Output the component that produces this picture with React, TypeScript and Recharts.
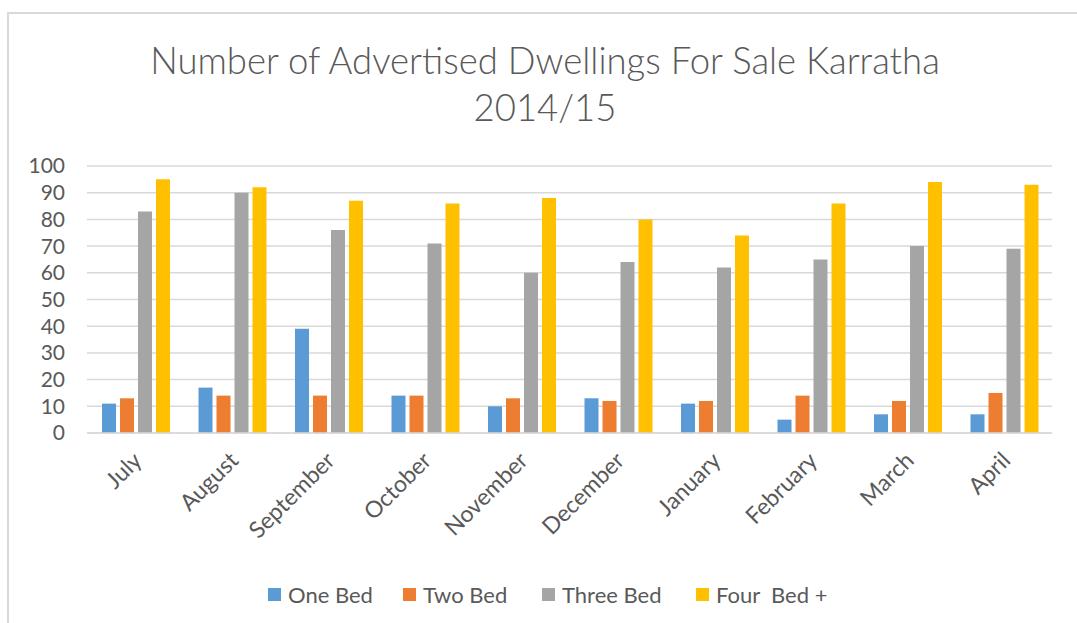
import React from 'react';
import { BarChart, Bar, XAxis, YAxis, CartesianGrid, Legend } from 'recharts';

const months = ['July', 'August', 'September', 'October', 'November', 'December', 'January', 'February', 'March', 'April'];
const oneBed = [11, 17, 39, 14, 10, 13, 11, 5, 7, 7];
const twoBed = [13, 14, 14, 14, 13, 12, 12, 14, 12, 15];
const threeBed = [83, 90, 76, 71, 60, 64, 62, 65, 70, 69];
const fourBed = [95, 92, 87, 86, 88, 80, 74, 86, 94, 93];
const yTicks = [0, 10, 20, 30, 40, 50, 60, 70, 80, 90, 100];

const seriesNames = ['One Bed', 'Two Bed', 'Three Bed', 'Four  Bed +'];
const seriesColors = ['#5B9BD5', '#ED7D31', '#A5A5A5', '#FFC000'];

const data = months.map((m, i) => ({
  month: m,
  one: oneBed[i],
  two: twoBed[i],
  three: threeBed[i],
  four: fourBed[i],
}));

const FONT = 'Lato, "Open Sans", sans-serif';
const TEXT = '#595959';

const MonthTick: React.FC<any> = ({ x, y, payload }) => {
  const ax = x + 8;
  const ay = y + 29;
  return (
    <text
      x={ax}
      y={ay}
      transform={`rotate(-45, ${ax}, ${ay})`}
      textAnchor="end"
      fill={TEXT}
      fontSize={23}
      fontFamily={FONT}
    >
      {payload.value}
    </text>
  );
};

// legend slot widths
const itemWidths = [135, 139, 154, 160];

// keep the series order (recharts would sort the payload by name)
const LegendBox: React.FC<any> = () => (
  <div style={{ display: 'flex', height: 30, alignItems: 'center', paddingLeft: 268, fontFamily: FONT }}>
    {seriesNames.map((name, i) => (
      <div key={name} style={{ display: 'flex', alignItems: 'center', width: itemWidths[i] }}>
        <span style={{ width: 13, height: 13, background: seriesColors[i], display: 'inline-block', marginRight: 7 }} />
        <span style={{ fontSize: 22, color: TEXT, whiteSpace: 'pre' }}>{name}</span>
      </div>
    ))}
  </div>
);

export default function App() {
  return (
    <div style={{ position: 'absolute', left: 0, top: 0, width: 1077, height: 623, background: '#fff', overflow: 'hidden' }}>
      <div
        style={{
          position: 'absolute',
          left: 7,
          top: 12,
          right: 0,
          bottom: 0,
          borderTop: '2px solid #d9d9d9',
          borderLeft: '2px solid #d9d9d9',
        }}
      />
      <div
        style={{
          position: 'absolute',
          left: 545,
          top: 37,
          transform: 'translateX(-50%)',
          textAlign: 'center',
          whiteSpace: 'nowrap',
          fontFamily: FONT,
          fontWeight: 300,
          fontSize: 36.5,
          lineHeight: '47px',
          color: TEXT,
        }}
      >
        Number of Advertised Dwellings For Sale Karratha
        <br />
        2014/15
      </div>
      <div style={{ position: 'absolute', left: 0, top: 0 }}>
        <BarChart
          width={1077}
          height={623}
          data={data}
          margin={{ top: 166, right: 25, left: 27, bottom: 14 }}
          barCategoryGap={15}
          barGap={4}
        >
          <CartesianGrid vertical={false} stroke="#d9d9d9" strokeWidth={1.5} />
          <XAxis
            dataKey="month"
            interval={0}
            height={146}
            tickLine={false}
            tickSize={0}
            tickMargin={0}
            axisLine={{ stroke: '#d9d9d9', strokeWidth: 1.5 }}
            tick={<MonthTick />}
          />
          <YAxis
            width={60}
            domain={[0, 100]}
            ticks={yTicks}
            interval={0}
            axisLine={false}
            tickLine={false}
            tickSize={0}
            tickMargin={22}
            tick={{ fill: TEXT, fontSize: 21, fontFamily: FONT }}
          />
          <Legend
            verticalAlign="bottom"
            content={<LegendBox />}
            wrapperStyle={{ left: 0, width: 1077, bottom: 14 }}
          />
          <Bar dataKey="one" name={seriesNames[0]} fill={seriesColors[0]} isAnimationActive={false} />
          <Bar dataKey="two" name={seriesNames[1]} fill={seriesColors[1]} isAnimationActive={false} />
          <Bar dataKey="three" name={seriesNames[2]} fill={seriesColors[2]} isAnimationActive={false} />
          <Bar dataKey="four" name={seriesNames[3]} fill={seriesColors[3]} isAnimationActive={false} />
        </BarChart>
      </div>
    </div>
  );
}
